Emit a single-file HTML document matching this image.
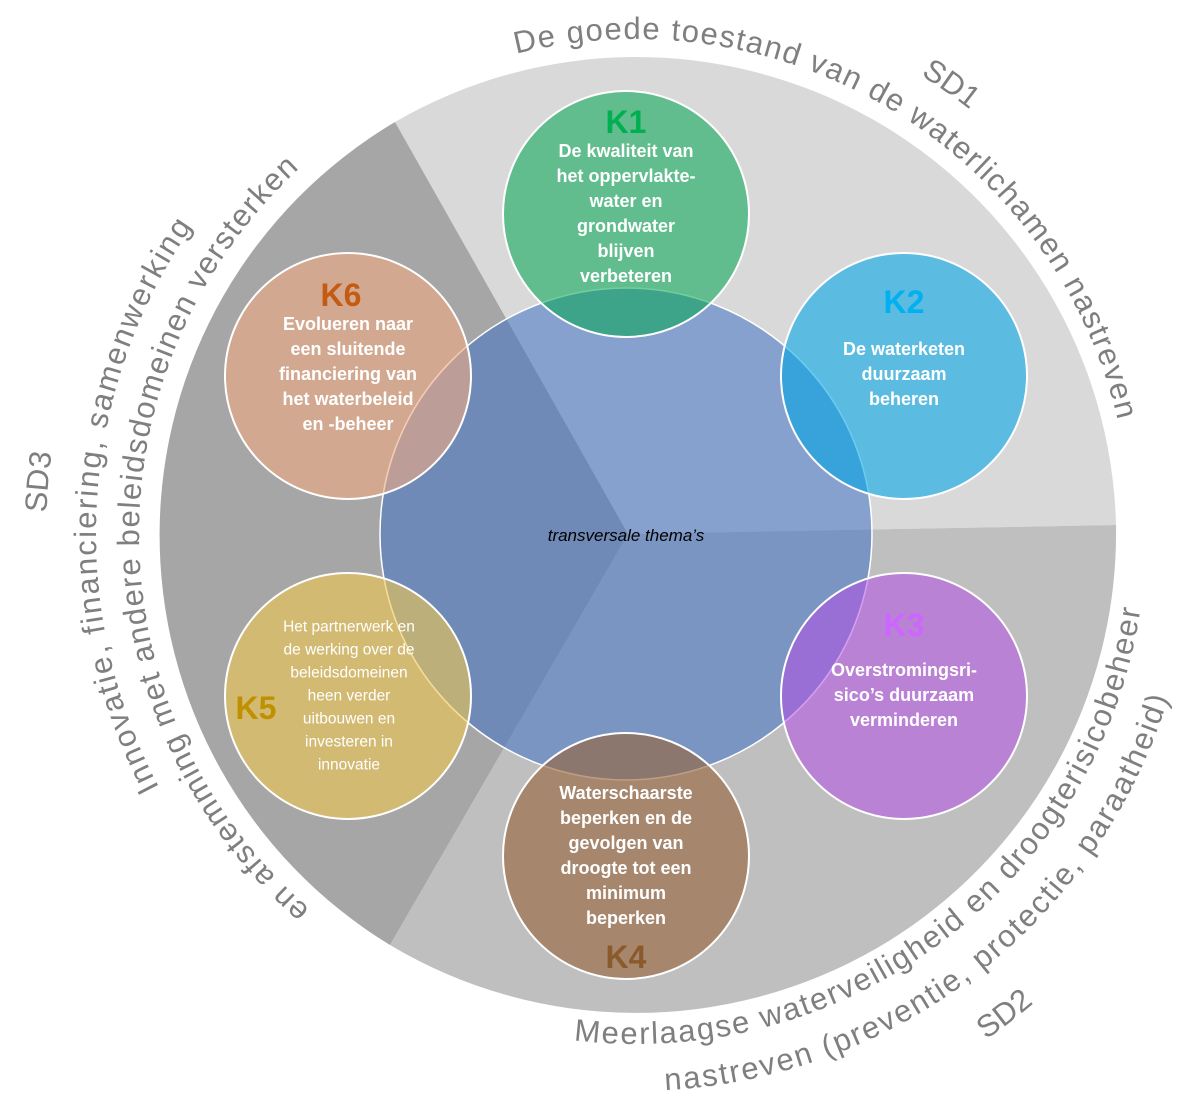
<!DOCTYPE html>
<html><head><meta charset="utf-8"><style>
html,body{margin:0;padding:0;background:#fff}
svg{display:block}
.arc{font-family:"Liberation Sans",sans-serif;font-size:31px;fill:#7f7f7f}
.b{font-family:"Liberation Sans",sans-serif;font-size:18px;font-weight:bold;fill:#fff;text-anchor:middle}
.n{font-family:"Liberation Sans",sans-serif;font-size:15.5px;fill:#fff;text-anchor:middle}
.k{font-family:"Liberation Sans",sans-serif;font-size:32px;font-weight:bold;text-anchor:middle}
</style></head><body>
<svg width="1186" height="1105" viewBox="0 0 1186 1105" xmlns="http://www.w3.org/2000/svg">
<defs>
<path id="p1" d="M516.3,53.7 A495,495 0 0,1 1126.2,465.1"/>
<path id="p1b" d="M820.7,26.6 A540,540 0 0,1 1049.6,186.9"/>
<path id="p3a" d="M159.2,787.5 A540,540 0 0,1 199.1,216.6"/>
<path id="p3b" d="M310.0,909.1 A497,497 0 0,1 310.0,158.9"/>
<path id="p3c" d="M55.0,636.4 A590,590 0 0,1 81.6,332.2"/>
<path id="p2a" d="M573.8,1040.2 A510,510 0 0,0 1142.2,596.2"/>
<path id="p2b" d="M665.1,1090.2 A557,557 0 0,0 1171.4,687.5"/>
<path id="p2c" d="M895.9,1091.4 A615,615 0 0,0 1107.1,929.3"/>
</defs>
<path d="M628,534 L395,122 A480,480 0 0,1 1116,525 Z" fill="#d9d9d9"/>
<path d="M628,534 L1116,525 A480,480 0 0,1 390,945 Z" fill="#bfbfbf"/>
<path d="M628,534 L390,945 A480,480 0 0,1 395,122 Z" fill="#a6a6a6"/>
<circle cx="626" cy="534" r="246" fill="#4472c4" fill-opacity="0.55" stroke="#fff" stroke-width="1.5"/>
<g stroke="#fff" stroke-width="2">
<circle cx="626" cy="214" r="123" fill="rgb(0,166,80)" fill-opacity="0.55"/>
<circle cx="904" cy="376" r="123" fill="rgb(0,165,230)" fill-opacity="0.58"/>
<circle cx="904" cy="696" r="123" fill="rgb(180,80,230)" fill-opacity="0.55"/>
<circle cx="626" cy="856" r="123" fill="rgb(150,100,60)" fill-opacity="0.62"/>
<circle cx="348" cy="696" r="123" fill="rgb(240,200,80)" fill-opacity="0.6"/>
<circle cx="348" cy="376" r="123" fill="rgb(240,170,130)" fill-opacity="0.6"/>
</g>
<text class="arc" letter-spacing="1.4"><textPath href="#p1">De goede toestand van de waterlichamen nastreven</textPath></text>
<text class="arc" text-anchor="middle"><textPath href="#p1b" startOffset="50%">SD1</textPath></text>
<text class="arc" letter-spacing="2"><textPath href="#p3a">Innovatie, financiering, samenwerking</textPath></text>
<text class="arc" letter-spacing="1.4"><textPath href="#p3b">en afstemming met andere beleidsdomeinen versterken</textPath></text>
<text class="arc" text-anchor="middle"><textPath href="#p3c" startOffset="50%">SD3</textPath></text>
<text class="arc" letter-spacing="1.8"><textPath href="#p2a">Meerlaagse waterveiligheid en droogterisicobeheer</textPath></text>
<text class="arc" letter-spacing="2"><textPath href="#p2b">nastreven (preventie, protectie, paraatheid)</textPath></text>
<text class="arc" text-anchor="middle"><textPath href="#p2c" startOffset="50%">SD2</textPath></text>
<text class="k" x="626" y="133" fill="#00b050">K1</text>
<text class="k" x="904" y="313" fill="#00b0f0">K2</text>
<text class="k" x="904" y="636" fill="#cc66ff">K3</text>
<text class="k" x="626" y="968" fill="#8b5a2b">K4</text>
<text class="k" x="256" y="719" fill="#bf9000">K5</text>
<text class="k" x="341" y="306" fill="#c55a11">K6</text>
<g class="b" dominant-baseline="central">
<text x="626" y="151">De kwaliteit van</text><text x="626" y="176">het oppervlakte-</text><text x="626" y="201">water en</text><text x="626" y="226">grondwater</text><text x="626" y="251">blijven</text><text x="626" y="276">verbeteren</text>
<text x="904" y="349">De waterketen</text><text x="904" y="374">duurzaam</text><text x="904" y="399">beheren</text>
<text x="904" y="670">Overstromingsri-</text><text x="904" y="695">sico’s duurzaam</text><text x="904" y="720">verminderen</text>
<text x="626" y="793">Waterschaarste</text><text x="626" y="818">beperken en de</text><text x="626" y="843">gevolgen van</text><text x="626" y="868">droogte tot een</text><text x="626" y="893">minimum</text><text x="626" y="918">beperken</text>
<text x="348" y="324">Evolueren naar</text><text x="348" y="349">een sluitende</text><text x="348" y="374">financiering van</text><text x="348" y="399">het waterbeleid</text><text x="348" y="424">en -beheer</text>
</g>
<g class="n" dominant-baseline="central">
<text x="349" y="627">Het partnerwerk en</text><text x="349" y="650">de werking over de</text><text x="349" y="673">beleidsdomeinen</text><text x="349" y="696">heen verder</text><text x="349" y="719">uitbouwen en</text><text x="349" y="742">investeren in</text><text x="349" y="765">innovatie</text>
</g>
<text x="626" y="541" font-family="Liberation Sans, sans-serif" font-size="17" font-style="italic" text-anchor="middle" fill="#000">transversale thema’s</text>
</svg>
</body></html>
